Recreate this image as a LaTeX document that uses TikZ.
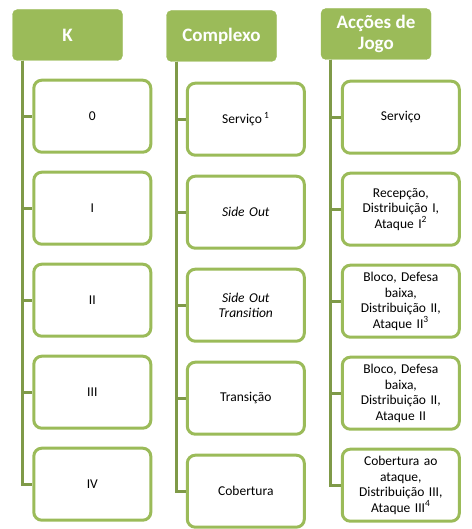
\documentclass[tikz,border=0pt]{standalone}
\usepackage{fontspec}
\setmainfont{Carlito}
\usepackage{tikz}
\usetikzlibrary{positioning}

\definecolor{verde}{HTML}{9BBB59}
\definecolor{verdeesc}{HTML}{7F9A48}

\begin{document}
\begin{tikzpicture}[
    x=1pt, y=-1pt,
    topo/.style={fill=verde, draw=verde, rounded corners=5pt, text=white, align=center, minimum width=110pt, minimum height=51pt, inner sep=1pt, font=\fontsize{19}{21}\selectfont\bfseries},
    caixa/.style={draw=verde, fill=white, line width=3pt, rounded corners=8pt, align=center, minimum width=117pt, minimum height=72pt, text width=112pt, inner sep=1pt, font=\fontsize{13.5}{15.5}\selectfont},
    ramo/.style={draw=verdeesc, line width=3pt}
]
\useasboundingbox (0,0) rectangle (471,529);

\node[topo] (k) at (67.5,35) {K};
\node[topo] (complexo) at (221.5,36) {Complexo};
\node[topo] (accoes) at (376,34) {Acções de\\Jogo};

\node[caixa, below right=18pt and 20pt of k.south west] (k0) {0};
\node[caixa, below=17pt of k0] (k1) {I};
\node[caixa, below=17pt of k1] (k2) {II};
\node[caixa, below=17pt of k2] (k3) {III};
\node[caixa, below=17pt of k3] (k4) {IV};

\node[caixa, below right=20pt and 19.5pt of complexo.south west] (c0) {Serviço\,\textsuperscript{1}};
\node[caixa, below=18pt of c0] (c1) {\textit{Side Out}};
\node[caixa, below=18pt of c1] (c2) {\textit{Side Out}\\\textit{Transition}};
\node[caixa, below=18pt of c2] (c3) {Transição};
\node[caixa, below=18pt of c3] (c4) {Cobertura};

\node[caixa, below right=20pt and 20pt of accoes.south west] (a0) {Serviço};
\node[caixa, below=17pt of a0] (a1) {Recepção,\\Distribuição I,\\Ataque I\textsuperscript{2}};
\node[caixa, below=17pt of a1] (a2) {Bloco, Defesa\\baixa,\\Distribuição II,\\Ataque II\textsuperscript{3}};
\node[caixa, below=17pt of a2] (a3) {Bloco, Defesa\\baixa,\\Distribuição II,\\Ataque II};
\node[caixa, below=17pt of a3] (a4) {Cobertura ao\\ataque,\\Distribuição III,\\Ataque III\textsuperscript{4}};

\foreach \pai/\filho in {k/k, complexo/c, accoes/a}
  \foreach \i in {0,...,4}
    \draw[ramo] ([xshift=10pt]\pai.south west) |- (\filho\i.west);
\end{tikzpicture}
\end{document}
